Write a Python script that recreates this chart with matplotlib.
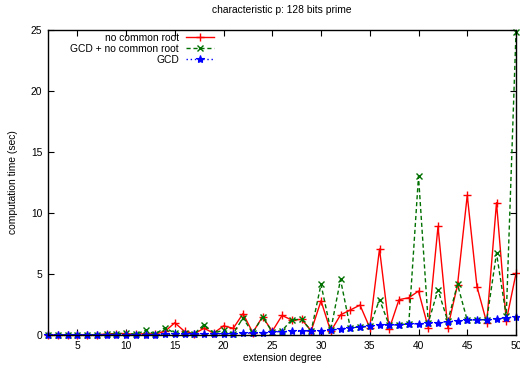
import matplotlib
matplotlib.use("Agg")
import matplotlib.pyplot as plt

plt.rcParams['font.family'] = ['Liberation Sans', 'DejaVu Sans']

degrees = list(range(2, 51))

no_common_root = [0.0, 0.0, 0.0, 0.02, 0.01, 0.02, 0.08, 0.12, 0.12, 0.05,
                  0.12, 0.08, 0.3, 1.0, 0.3, 0.1, 0.55, 0.15, 0.75, 0.55,
                  1.75, 0.2, 1.5, 0.3, 1.6, 1.23, 1.28, 0.35, 2.8, 0.3,
                  1.65, 2.05, 2.45, 0.6, 7.05, 0.5, 2.9, 3.05, 3.6, 0.6,
                  8.9, 0.6, 4.1, 11.45, 3.95, 1.0, 10.85, 1.15, 5.05]

gcd_no_common_root = [0.0, 0.0, 0.0, 0.01, 0.01, 0.02, 0.05, 0.08, 0.18, 0.05,
                      0.38, 0.08, 0.6, 0.15, 0.2, 0.1, 0.85, 0.15, 0.4, 0.12,
                      1.4, 0.15, 1.5, 0.25, 0.35, 1.25, 1.28, 0.35, 4.15, 0.4,
                      4.55, 0.6, 0.65, 0.7, 2.9, 0.8, 0.85, 0.9, 13.0, 1.0,
                      3.7, 1.15, 4.15, 1.2, 1.25, 1.25, 6.7, 1.55, 24.8]

gcd = [0.0, 0.0, 0.0, 0.01, 0.01, 0.01, 0.02, 0.02, 0.03, 0.03,
       0.04, 0.04, 0.05, 0.06, 0.07, 0.08, 0.09, 0.1, 0.1, 0.12,
       0.15, 0.15, 0.2, 0.25, 0.28, 0.3, 0.3, 0.35, 0.35, 0.4,
       0.5, 0.6, 0.68, 0.72, 0.8, 0.8, 0.85, 0.9, 0.92, 0.95,
       1.0, 1.1, 1.15, 1.2, 1.25, 1.25, 1.35, 1.4, 1.5]

x_ticks = [5, 10, 15, 20, 25, 30, 35, 40, 45, 50]
y_ticks = [0, 5, 10, 15, 20, 25]

FS = 7.4

fig = plt.figure(figsize=(5.2, 3.69), dpi=100)
ax = fig.add_axes([48/520, 1-335/369, (516-48)/520, (335-30)/369])

ax.plot(degrees, no_common_root, color='#ff0000', linestyle='-', linewidth=1.0,
        marker='+', markersize=6, markeredgewidth=1.0, label='no common root', clip_on=False)
ax.plot(degrees, gcd_no_common_root, color='#007000', linestyle=(0, (3, 2)), linewidth=1.0,
        marker='x', markersize=5, markeredgewidth=1.0, label='GCD + no common root', clip_on=False)
ax.plot(degrees, gcd, color='#0000ff', linestyle=(0, (1, 2)), linewidth=1.0,
        marker='*', markersize=6, markeredgewidth=0.8, label='GCD', clip_on=False)

ax.set_xlim(2, 50)
ax.set_ylim(0, 25)
ax.set_xticks(x_ticks)
ax.set_yticks(y_ticks)
ax.tick_params(direction='in', top=True, right=True, length=4, width=0.8,
               labelsize=FS, pad=4)
for s in ax.spines.values():
    s.set_linewidth(1.0)

ax.set_xlabel('extension degree', fontsize=FS, labelpad=2)
ax.set_ylabel('computation time (sec)', fontsize=FS, labelpad=9)
ax.set_title('characteristic p: 128 bits prime', fontsize=FS, pad=12)

leg = ax.legend(loc='upper right', bbox_to_anchor=((214-48)/468, (335-33)/305),
                frameon=False, markerfirst=False, fontsize=FS, handlelength=2.7,
                handletextpad=0.7, labelspacing=0.1, borderaxespad=0.0,
                borderpad=0.0)

fig.savefig('out.png', dpi=100)
